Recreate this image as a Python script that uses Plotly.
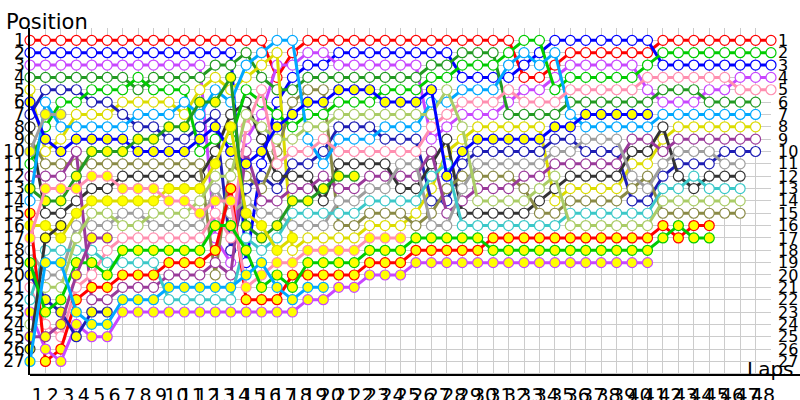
import plotly.graph_objects as go

# ---------------- data ----------------
laps = list(range(0, 49))
lap_labels = [str(n) for n in range(1, 49)]
pos_labels = [str(n) for n in range(1, 28)]
_ = None

R = [1,1,1,1,1,1,1,1,1,1,1,1,1,1,1,1, 4,2, 1,1,1,1,1,1,1,1,1,1,1,1,1,1, 4,4,3, 2,2,2,2,2,2, 1,1,1,1,1,1,1,1]
B = [2,2,2,2,2,2,2,2,2,2,2,2,2,2, 19,11,6,4,3,3, 2,2,2,2,2,2,2,2, 4,4,4,4, 3,2, 1,1,1,1,1,1,1, 3,3,3,3,3,3,3,3]
V = [3,3,3,3,3,3,3,3,3,3,3,3, 17,19,9,7,3,3, 2,2, 3,3,3,3,3,3, 9,8,7,7,7,6,5,5,4, 3,3,3,3,3, 5,6,6,6,5,5,4,4,4]
DG = [4,4,4,4,4,4,4,5,4,4,4,4, 3,3,2,4,5,5, 4,4, 4,4,4,4,4,4, 3,3, 2,2,2, 7,7,7,7, 6,6,6,6,6,6, 5,5,5, 6,6,6,6, _]
Y = [5,10,9,7,7,7,6,6,6,6,7,5,4,5,4,3,2, 18,17,17,17,17, 16,16,16, 15,13,10,9, 8,8,8,8,8, 14, 13,13,13,13, 11,11, 9, 8,8,8,8,8,8, _]
N = [7,5,5,5,6,6,7,8,8,9,9,8,7, 18,13,12,13,11,11,10, 8,8,8, 9,9,9, 14,14,11, 10,10,10,10,10, 9,9, 10,10,10, 14,14, 12,11,11,11, 10,10,10, _]
DK = [8,15,15,14,13,13,12,12,12,12,12,12, 10,7,6,9,12,12,12,14, 11,11,11,11, 13,13, 11,9, 15,15,15,15,15, 14,13, 12,12,12,12, 10,10, 8,12,13,12,12,12, _,_]
O = [9,11,11,11,11,11,11,11,11,11,11,11, 20,11,12,13,10,6,5,5, 16,16, 15,15,15, 16,15,13, 12,12,12,12, 13,15,15, 14,14,14,14, 13,12, 15,15,15,15,15,15, _,_]
G = [11,8,6,6,5,5,5,4,5,5,5,10, 9,9,5,6,7,8,7,7, 6,6,6, 5,5,5, 4,4, 3,3,3, 2, 1,1, 5, 4,4,4,4,4, 3, 2,2,2,2,2,2,2,2]
PU = [12,12,12,10, 22,22, 21,21,21, 20,20,20, 19,20,10,14,14,13,13,12, 13,13, 12,12,12,12, 10,15,14, 13,13,13, 12,12, 11, 11,11,11,11, 9,9, 10, 9,9,9,9,9,9, _]
SB = [14,6,8,8,8,8,8,7,7,7,6,7, 5,6,3,2,1,1,9,11, 9,9,9, 8,8,8, 6,6, 5,5,5, 3,2,3,2, 7, 8,8,8,8,8, 7,7,7,7,7,7,7, _]
GR = [18,20,20,16,16,16,15,15,16,16,16,16, 13,15,14,15,15,16,16,16, 14,14, 13,13, 11,11, 16,16, 13, 11,11,11,11,11, 10,10, 9,9,9, 12,13, 11,10,10,10,11,11, _,_]
P = [21,24,25,21,20,18,17,17,17,17,17,17, 15,17,8,5,11,10,10,9, 10,10,10,10,10,10, 8,7, 6,6,6, 5, 6,6,6, 5,5,5,5,5, 4, 4,4,4,4,4, 5,5,5]
C = [22,18,18,18,18,19,19,19,19,22,22,22,22,22, 17,18,17,15,15,15,15,15, 14,14,14,14, 12,11, 16,16,16,16,16,16,16, 15,15,15,15,15,15, 13,13,12,13,13,13, _,_]
LG = [24,21,21,17,15,15,16,16,15,15,15,14, 12,12,7,8,9,9,8,8, 7,7,7,7,7,7,7, 5, 8, 14,14,14,14, 13,12, 16,16,16,16,16,16, 14,14,14,14,14,14, _,_]
RY = [15,27,26,22,21,21,20,20,20,19,19,19,18, 13, 22,22,22, 20,20,20,20,20, 19,19,19, 18,18,18,18,18, 17,17,17,17,17,17,17,17,17,17,17, 16,17,16,16, _,_,_,_]
BY = [6,9,10,9,9,9,9,10,10,10,10,9, 8,10,11,10,8,7,6,6, 5,5,5, 6,6,6, 5,12,10, 9,9,9,9,9, 8,8, 7,7,7,7,7, _,_,_,_,_,_,_,_]
VY = [23,26,27,24,25,25, 23,23,23,23,23,23,23,23,23,23,23,23, 22,22, 21,21, 20,20,20,
      19,19,19,19,19,19,19,19,19,19,19,19,19,19,19,19, _,_,_,_,_,_,_,_]
DGY = [13,14,14,12,10,10,10,9,9,8,8,6,6,4,16,17,16,14,14,13,12,12,
       _,_,_,_,_,_,_,_,_,_,_,_,_,_,_,_,_,_,_,_,_,_,_,_,_,_,_]
YY = [16,16,17,15,14,14,14,14,14,13,13,13,11,8,15,16,18,17,
      _,_,_,_,_,_,_,_,_,_,_,_,_,_,_,_,_,_,_,_,_,_,_,_,_,_,_,_,_,_,_]
NY = [20,22,23,25,23,23,
      _,_,_,_,_,_,_,_,_,_,_,_,_,_,_,_,_,_,_,_,_,_,_,_,_,_,_,_,_,_,_,_,_,_,_,_,_,_,_,_,_,_,_]
DKY = [26,17,16,
       _,_,_,_,_,_,_,_,_,_,_,_,_,_,_,_,_,_,_,_,_,_,_,_,_,_,_,_,_,_,_,_,_,_,_,_,_,_,_,_,_,_,_,_,_,_]
GY = [19,23,22,19,19,20,18,18,18,18,18,18,16,16, 18,21,20,21, 19,19,19,19, 18,18,18, 17,17,17,17,17,
      18,18,18,18,18,18,18,18,18,18,18, 17,16,17,17, _,_,_,_]
PUY = [25,25,24,20,17,17,
       _,_,_,_,_,_,_,_,_,_,_,_,_,_,_,_,_,_,_,_,_,_,_,_,_,_,_,_,_,_,_,_,_,_,_,_,_,_,_,_,_,_,_]
SBY = [27,19,19,23,24,24,22,22,22,21,21,21,21,21,20,19,21,22,21,21,
       _,_,_,_,_,_,_,_,_,_,_,_,_,_,_,_,_,_,_,_,_,_,_,_,_,_,_,_,_]
GRY = [10,7,7,
       _,_,_,_,_,_,_,_,_,_,_,_,_,_,_,_,_,_,_,_,_,_,_,_,_,_,_,_,_,_,_,_,_,_,_,_,_,_,_,_,_,_,_,_,_,_]
PY = [17,13,13,13,12,12,13,13,13,14,14,15,14,14,21,20,19,19,18,18,18,18,17,17,17,
      _,_,_,_,_,_,_,_,_,_,_,_,_,_,_,_,_,_,_,_,_,_,_,_]

# ---------------- styles ----------------
RED = "#ff0000"; BLUE = "#0000ff"; VIOLET = "#c846ff"; DKGREEN = "#229a22"
YELLOW = "#dcdc00"; NAVY = "#1e1eb4"; DKGRAY = "#333333"; OLIVE = "#8a8a46"
GREEN = "#00cc00"; PURPLE = "#9a3a9a"; SKY = "#00a8ff"; GRAY = "#9e9e9e"
PINK = "#ff8fb0"; CYAN = "#3cc8c8"; LTGREEN = "#aacc66"

series = [
    (R, RED, False), (B, BLUE, False), (V, VIOLET, False), (DG, DKGREEN, False),
    (Y, YELLOW, False), (N, NAVY, False), (DK, DKGRAY, False), (O, OLIVE, False),
    (G, GREEN, False), (PU, PURPLE, False), (SB, SKY, False), (GR, GRAY, False),
    (P, PINK, False), (C, CYAN, False), (LG, LTGREEN, False),
    (RY, RED, True), (BY, BLUE, True), (VY, VIOLET, True), (DGY, DKGREEN, True),
    (YY, YELLOW, True), (NY, NAVY, True), (DKY, DKGRAY, True), (PY, PINK, True),
    (GY, GREEN, True), (PUY, PURPLE, True), (SBY, SKY, True), (GRY, GRAY, True),
]

fig = go.Figure()
for ys, col, filled in series:
    fig.add_trace(go.Scatter(
        x=laps, y=ys, mode="lines+markers",
        line=dict(color=col, width=3),
        marker=dict(size=10, color="#ffff00" if filled else "white",
                    line=dict(color=col, width=1.2)),
        cliponaxis=False, connectgaps=False, hoverinfo="skip", showlegend=False,
    ))

# invisible trace for the right-hand position axis
fig.add_trace(go.Scatter(x=[0], y=[1], yaxis="y2", mode="markers",
                         marker=dict(opacity=0), hoverinfo="skip", showlegend=False))

L, T, W, H = 30, 28, 741, 347
FONT = "DejaVu Sans"

fig.update_layout(
    width=800, height=400,
    margin=dict(l=L, r=800 - L - W, t=T, b=400 - T - H, pad=0, autoexpand=False),
    paper_bgcolor="white", plot_bgcolor="white",
    font=dict(family=FONT, color="black"),
    xaxis=dict(
        range=[0, 48], tickmode="array", tickvals=laps[1:], ticktext=lap_labels,
        showgrid=True, gridcolor="#cccccc", gridwidth=1, zeroline=False,
        showline=False, ticks="", tickangle=0, automargin=False,
        tickfont=dict(size=19, family=FONT, color="black"),
        ticklabelshift=-8, ticklabelstandoff=7, fixedrange=True,
    ),
    yaxis=dict(
        range=[28.1, 0], tickmode="array", tickvals=list(range(1, 29)),
        ticktext=pos_labels + [""], showgrid=True, gridcolor="#cccccc", gridwidth=1,
        zeroline=False, showline=True, linecolor="black", linewidth=1.5,
        ticks="", automargin=False, tickfont=dict(size=17, family=FONT, color="black"),
        ticklabelstandoff=0, fixedrange=True,
    ),
    yaxis2=dict(
        range=[28.1, 0], overlaying="y", side="right", tickmode="array",
        tickvals=list(range(1, 28)), ticktext=pos_labels, showgrid=False,
        zeroline=False, showline=False, ticks="", automargin=False,
        tickfont=dict(size=16, family=FONT, color="black"),
        ticklabelstandoff=6, fixedrange=True,
    ),
    shapes=[dict(type="line", xref="paper", yref="paper",
                 x0=0, x1=(800 - L) / W, y0=0, y1=0,
                 line=dict(color="black", width=2))],
    annotations=[
        dict(text="Position", xref="paper", yref="paper", x=(4 - L) / W, xanchor="left",
             y=(T + H - 36) / H, yanchor="bottom", showarrow=False,
             font=dict(size=21, family=FONT, color="black")),
        dict(text="Laps", xref="paper", yref="paper", x=(745 - L) / W, xanchor="left",
             y=(T + H - 383) / H, yanchor="bottom", showarrow=False,
             font=dict(size=20, family=FONT, color="black")),
    ],
)

fig.write_html("out.html", config={"displayModeBar": False},
               post_script="document.body.style.margin='0';document.body.style.overflow='hidden';")
